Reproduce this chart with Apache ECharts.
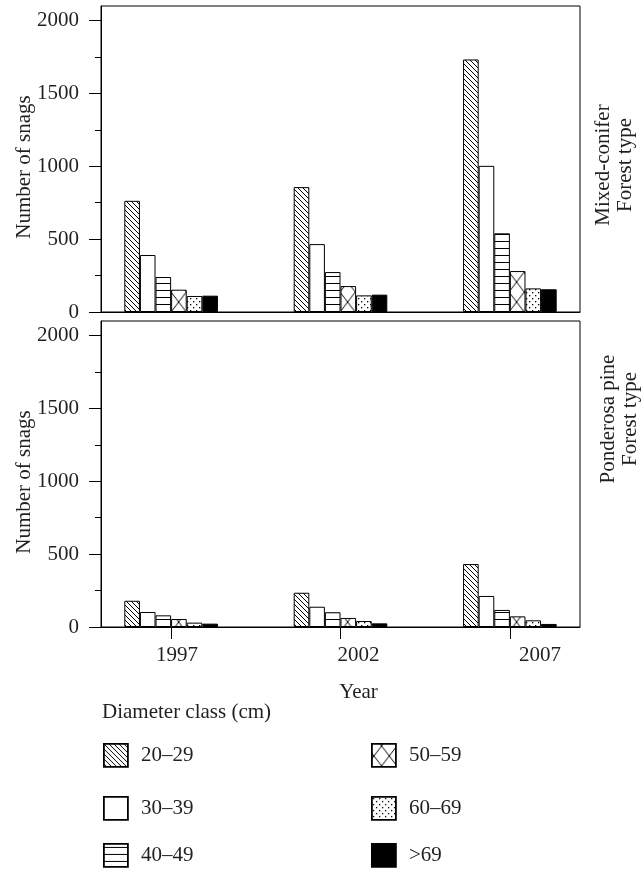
<!DOCTYPE html>
<html>
<head>
<meta charset="utf-8">
<script src="https://cdn.jsdelivr.net/npm/echarts@6/dist/echarts.min.js"></script>
<style>
html,body{margin:0;padding:0;background:#fff;}
#chart{width:641px;height:869px;}
</style>
</head>
<body>
<div id="chart"></div>
<script>
// ---- data ----
const years = [1997, 2002, 2007];
const classNames = ['20\u201329', '30\u201339', '40\u201349', '50\u201359', '60\u201369', '>69'];
const yTicks = [0, 500, 1000, 1500, 2000];
const yMinorTicks = [250, 750, 1250, 1750];

// Mixed-conifer forest type (top panel)
const mc20_29 = [763, 857, 1733];
const mc30_39 = [391, 466, 1003];
const mc40_49 = [240, 274, 540];
const mc50_59 = [153, 178, 281];
const mc60_69 = [110, 114, 162];
const mcGt69  = [112, 119, 156];

// Ponderosa pine forest type (bottom panel)
const pp20_29 = [180, 235, 432];
const pp30_39 = [103, 139, 213];
const pp40_49 = [80, 101, 117];
const pp50_59 = [55, 62, 73];
const pp60_69 = [30, 41, 46];
const ppGt69  = [23, 25, 21];

const panelLabels = ['Mixed-conifer\nForest type', 'Ponderosa pine\nForest type'];
const yName = 'Number of snags';
const xName = 'Year';
const legendTitle = 'Diameter class (cm)';

const mcData = [mc20_29, mc30_39, mc40_49, mc50_59, mc60_69, mcGt69];
const ppData = [pp20_29, pp30_39, pp40_49, pp50_59, pp60_69, ppGt69];

// ---- patterns ----
function tile(w, h, draw) {
  const c = document.createElement('canvas');
  c.width = w; c.height = h;
  const g = c.getContext('2d');
  g.fillStyle = '#fff'; g.fillRect(0, 0, w, h);
  g.strokeStyle = '#000'; g.fillStyle = '#000'; g.lineWidth = 1;
  draw(g, w, h);
  return c;
}
const diagTile = tile(5, 5, (g) => {
  g.beginPath();
  g.moveTo(-1, -1); g.lineTo(6, 6);
  g.moveTo(-1, 4); g.lineTo(1, 6);
  g.moveTo(4, -1); g.lineTo(6, 1);
  g.stroke();
});
const horizTile = tile(4, 7, (g) => { g.fillRect(0, 3, 4, 1); });
const crossTile = tile(16, 20, (g) => {
  g.beginPath();
  g.moveTo(0, 0); g.lineTo(16, 20);
  g.moveTo(16, 0); g.lineTo(0, 20);
  g.stroke();
});
const dotTile = tile(6, 6, (g) => {
  g.fillRect(1, 1, 1.3, 1.3);
  g.fillRect(4, 4, 1.3, 1.3);
});
const fills = [
  { image: diagTile, repeat: 'repeat' },
  '#ffffff',
  { image: horizTile, repeat: 'repeat' },
  { image: crossTile, repeat: 'repeat', scaleX: 0.96, x: 2, y: 12 },
  { image: dotTile, repeat: 'repeat' },
  '#000000'
];

const FONT = '"Liberation Serif", "Times New Roman", serif';
const TXT = '#231f20';
const FS = 21;

const grids = [
  { left: 101, top: 6, width: 479, height: 306 },
  { left: 101, top: 321, width: 479, height: 306 }
];

const xMin = 1994.93, xMax = 2009.07;

const xAxes = [0, 1].map(p => ({
  type: 'value', gridIndex: p, min: xMin, max: xMax, position: 'bottom',
  axisLine: { show: true, lineStyle: { color: '#000', width: 1 } },
  axisTick: p === 1 ? { show: true, length: 12, inside: false, lineStyle: { color: '#000' }, customValues: years } : { show: false },
  axisLabel: p === 1 ? {
    show: true, customValues: years, margin: 18,
    fontFamily: FONT, fontSize: FS, color: TXT,
    formatter: (v) => '{s' + years.indexOf(v) + '|' + v + '}',
    rich: {
      s0: { padding: [0, 0, 0, 12], fontFamily: FONT, fontSize: FS, color: TXT },
      s1: { padding: [0, 0, 0, 36], fontFamily: FONT, fontSize: FS, color: TXT },
      s2: { padding: [0, 0, 0, 60], fontFamily: FONT, fontSize: FS, color: TXT }
    }
  } : { show: false },
  splitLine: { show: false },
  name: p === 1 ? xName : '',
  nameLocation: 'middle', nameGap: 55, nameMoveOverlap: false,
  nameTextStyle: { fontFamily: FONT, fontSize: FS, color: TXT, padding: [0, 0, 0, 36] }
}));

const yAxes = [];
[0, 1].forEach(p => {
  yAxes.push({
    type: 'value', gridIndex: p, min: 0, max: 2100, position: 'left',
    axisLine: { show: true, lineStyle: { color: '#000', width: 1 } },
    axisTick: { show: true, length: 12, inside: false, customValues: yTicks, lineStyle: { color: '#000' } },
    axisLabel: { show: true, customValues: yTicks, margin: 22, fontFamily: FONT, fontSize: FS, color: TXT,
      formatter: (v) => String(v) },
    splitLine: { show: false },
    name: yName, nameLocation: 'middle', nameGap: 66, nameMoveOverlap: false,
    nameTextStyle: { fontFamily: FONT, fontSize: FS, color: TXT, padding: [0, 16, 0, 0] }
  });
  yAxes.push({
    type: 'value', gridIndex: p, min: 0, max: 2100, position: 'left', offset: 0,
    axisLine: { show: false },
    axisTick: { show: true, length: 6, inside: false, customValues: yMinorTicks, lineStyle: { color: '#000' } },
    axisLabel: { show: false },
    splitLine: { show: false }
  });
});

const series = [];
[mcData, ppData].forEach((panel, p) => {
  panel.forEach((vals, i) => {
    series.push({
      type: 'bar', name: classNames[i],
      xAxisIndex: p, yAxisIndex: p * 2,
      barWidth: 15.6, barGap: '0%',
      data: years.map((yr, j) => [yr, vals[j]]),
      itemStyle: { color: fills[i], borderColor: '#000', borderWidth: 1 },
      emphasis: { disabled: true },
      animation: false
    });
  });
});

const legendPos = [
  { left: 103, top: 743 }, { left: 103, top: 796 }, { left: 103, top: 843 },
  { left: 371, top: 743 }, { left: 371, top: 796 }, { left: 371, top: 843 }
];
const legends = classNames.map((n, i) => ({
  data: [n], left: legendPos[i].left, top: legendPos[i].top,
  padding: 0, itemWidth: 24, itemHeight: 23, icon: 'rect', selectedMode: false,
  itemStyle: { borderColor: '#000', borderWidth: 1.8 },
  textStyle: { fontFamily: FONT, fontSize: FS, color: TXT, padding: [0, 0, 0, 8] }
}));

const option = {
  backgroundColor: '#fff',
  animation: false,
  title: {
    text: legendTitle, left: 102, top: 702, padding: 0,
    textStyle: { fontFamily: FONT, fontSize: FS, fontWeight: 'normal', color: TXT }
  },
  grid: grids.map(g => Object.assign({ show: true, borderColor: '#000', borderWidth: 1, backgroundColor: 'transparent', containLabel: false, outerBoundsMode: 'none' }, g)),
  xAxis: xAxes,
  yAxis: yAxes,
  legend: legends,
  series: series,
  graphic: [
    { type: 'text', x: 614, y: 165, rotation: Math.PI / 2,
      style: { text: panelLabels[0], fontFamily: FONT, fontSize: FS, fill: TXT, align: 'center', verticalAlign: 'middle', lineHeight: 22 } },
    { type: 'text', x: 619, y: 419, rotation: Math.PI / 2,
      style: { text: panelLabels[1], fontFamily: FONT, fontSize: FS, fill: TXT, align: 'center', verticalAlign: 'middle', lineHeight: 22 } }
  ]
};

const chart = echarts.init(document.getElementById('chart'), null, { renderer: 'canvas' });
chart.setOption(option);
</script>
</body>
</html>
